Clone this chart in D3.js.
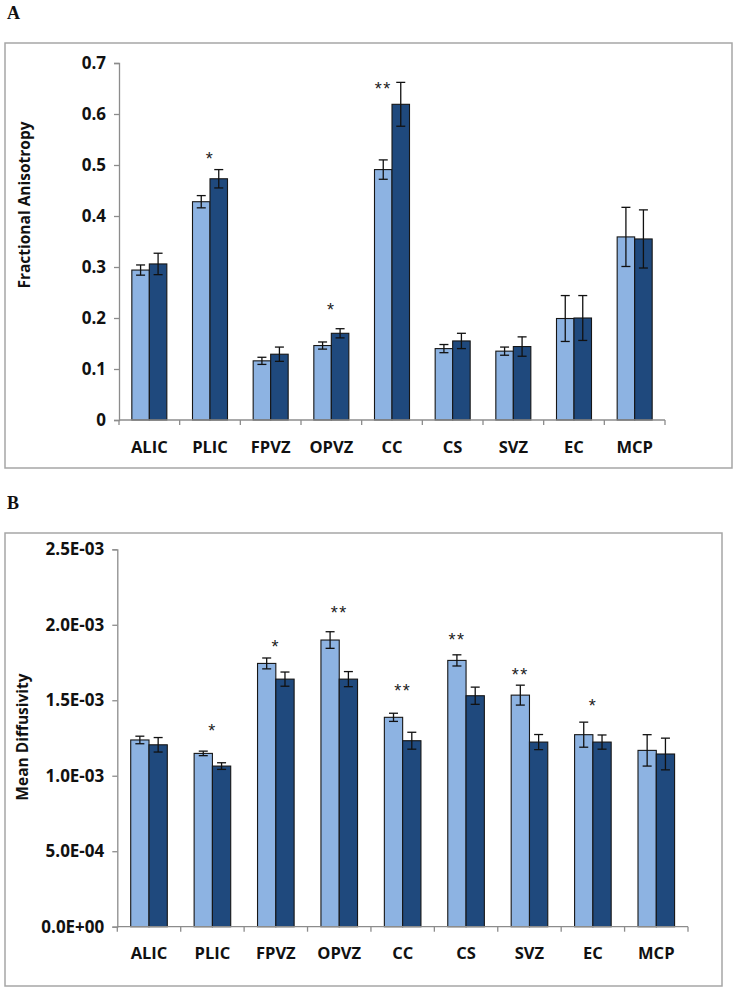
<!DOCTYPE html>
<html><head><meta charset="utf-8">
<script src="https://cdn.jsdelivr.net/npm/d3@7"></script>
<style>
html,body{margin:0;padding:0;background:#fff;}
svg{display:block;}
</style></head>
<body>
<svg id="chart" width="738" height="992"></svg>
<script>
// ---------- DATA ----------
const categories = ["ALIC","PLIC","FPVZ","OPVZ","CC","CS","SVZ","EC","MCP"];

// Panel A: Fractional Anisotropy
const faLight    = [0.294, 0.428, 0.116, 0.146, 0.491, 0.140, 0.135, 0.199, 0.359];
const faLightErr = [0.010, 0.012, 0.007, 0.007, 0.019, 0.008, 0.008, 0.045, 0.058];
const faDark     = [0.306, 0.473, 0.129, 0.170, 0.619, 0.155, 0.144, 0.200, 0.355];
const faDarkErr  = [0.021, 0.018, 0.014, 0.009, 0.043, 0.015, 0.019, 0.044, 0.057];
const faSig      = ["", "*", "", "*", "**", "", "", "", ""];
const faSigLevel = [null, 0.52, null, 0.2235, 0.657, null, null, null, null];
const faSigOver  = ["", "pair", "", "pair", "light", "", "", "", ""];
const faTicks      = [0, 0.1, 0.2, 0.3, 0.4, 0.5, 0.6, 0.7];
const faTickLabels = ["0", "0.1", "0.2", "0.3", "0.4", "0.5", "0.6", "0.7"];

// Panel B: Mean Diffusivity
const mdLight    = [1.237e-3, 1.148e-3, 1.744e-3, 1.899e-3, 1.387e-3, 1.764e-3, 1.534e-3, 1.272e-3, 1.168e-3];
const mdLightErr = [0.025e-3, 0.015e-3, 0.036e-3, 0.055e-3, 0.027e-3, 0.037e-3, 0.066e-3, 0.083e-3, 0.104e-3];
const mdDark     = [1.205e-3, 1.064e-3, 1.640e-3, 1.640e-3, 1.232e-3, 1.530e-3, 1.223e-3, 1.223e-3, 1.144e-3];
const mdDarkErr  = [0.048e-3, 0.022e-3, 0.047e-3, 0.050e-3, 0.056e-3, 0.057e-3, 0.050e-3, 0.047e-3, 0.105e-3];
const mdSig      = ["", "*", "*", "**", "**", "**", "**", "*", ""];
const mdSigLevel = [null, 1.320e-3, 1.881e-3, 2.104e-3, 1.586e-3, 1.927e-3, 1.692e-3, 1.488e-3, null];
const mdSigOver  = ["", "pair", "pair", "pair", "pair", "light", "light", "pair", ""];
const mdTicks      = [0, 5e-4, 1.0e-3, 1.5e-3, 2.0e-3, 2.5e-3];
const mdTickLabels = ["0.0E+00", "5.0E-04", "1.0E-03", "1.5E-03", "2.0E-03", "2.5E-03"];

// ---------- STYLE ----------
const LIGHT = "#8db3e2", DARK = "#1f497d";
const AXIS = "#8c8c8c", FRAME = "#a6a6a6";
const FONT = "'Open Sans', 'Liberation Sans', Arial, sans-serif";

const svg = d3.select("#chart");

function panel(cfg) {
  const g = svg.append("g");
  g.append("text").attr("x", cfg.letterX).attr("y", cfg.letterY)
    .attr("font-family", "'Liberation Serif','Times New Roman',serif")
    .attr("font-weight", "bold").attr("font-size", 18).attr("fill", "#111")
    .text(cfg.letter);
  g.append("rect").attr("x", cfg.frame[0]).attr("y", cfg.frame[1])
    .attr("width", cfg.frame[2] - cfg.frame[0]).attr("height", cfg.frame[3] - cfg.frame[1])
    .attr("fill", "none").attr("stroke", FRAME).attr("stroke-width", 1.5);

  const y = d3.scaleLinear().domain(cfg.domain).range([cfg.y0, cfg.y1]);
  const x0 = d3.scaleBand().domain(categories).range([cfg.xa, cfg.xb])
    .paddingInner(0.423).paddingOuter(0.2115);
  const x1 = d3.scaleBand().domain(["light", "dark"]).range([0, x0.bandwidth()]).padding(0);
  const step = x0.step();
  const bandStart = d => x0(d) - step * x0.paddingInner() / 2;

  const yAxis = d3.axisLeft(y).tickValues(cfg.ticks)
    .tickFormat((d, i) => cfg.tickLabels[i]).tickSize(5).tickPadding(8);
  const ya = g.append("g").attr("transform", `translate(${cfg.xa},0)`).call(yAxis);
  ya.select(".domain").attr("stroke", AXIS).attr("stroke-width", 1.3);
  ya.selectAll(".tick line").attr("stroke", AXIS).attr("stroke-width", 1.3);
  ya.selectAll(".tick text").attr("font-family", FONT).attr("font-weight", 700)
    .attr("font-size", 17).attr("fill", "#111");

  const series = [
    {key: "light", vals: cfg.light, errs: cfg.lightErr, color: LIGHT},
    {key: "dark",  vals: cfg.dark,  errs: cfg.darkErr,  color: DARK}
  ];
  series.forEach(s => {
    g.selectAll(null).data(categories).enter().append("rect")
      .attr("x", d => x0(d) + x1(s.key))
      .attr("y", (d, i) => y(s.vals[i]))
      .attr("width", x1.bandwidth())
      .attr("height", (d, i) => y(0) - y(s.vals[i]))
      .attr("fill", s.color).attr("stroke", "#161616").attr("stroke-width", 1.1);
  });
  series.forEach(s => {
    const eg = g.selectAll(null).data(categories).enter().append("g")
      .attr("transform", d => `translate(${x0(d) + x1(s.key) + x1.bandwidth() / 2},0)`);
    eg.append("line").attr("x1", 0).attr("x2", 0)
      .attr("y1", (d, i) => y(s.vals[i] + s.errs[i]))
      .attr("y2", (d, i) => y(s.vals[i] - s.errs[i]))
      .attr("stroke", "#111").attr("stroke-width", 1.3);
    [1, -1].forEach(sg => {
      eg.append("line").attr("x1", -4.5).attr("x2", 4.5)
        .attr("y1", (d, i) => y(s.vals[i] + sg * s.errs[i]))
        .attr("y2", (d, i) => y(s.vals[i] + sg * s.errs[i]))
        .attr("stroke", "#111").attr("stroke-width", 1.3);
    });
  });

  g.append("line").attr("x1", cfg.xa).attr("x2", cfg.xb)
    .attr("y1", y(0)).attr("y2", y(0)).attr("stroke", AXIS).attr("stroke-width", 1.3);
  const bounds = categories.map(bandStart).concat([cfg.xb]);
  g.selectAll(null).data(bounds).enter().append("line")
    .attr("x1", d => d).attr("x2", d => d)
    .attr("y1", y(0)).attr("y2", y(0) + 5)
    .attr("stroke", AXIS).attr("stroke-width", 1.3);
  g.selectAll(null).data(categories).enter().append("text")
    .attr("x", d => x0(d) + x0.bandwidth() / 2)
    .attr("y", y(0) + cfg.catDy)
    .attr("text-anchor", "middle")
    .attr("font-family", FONT).attr("font-weight", 700).attr("font-size", 16.5)
    .attr("fill", "#111").text(d => d);

  g.selectAll(null).data(categories.filter((d, i) => cfg.sig[i])).enter().append("text")
    .attr("x", d => {
      const i = categories.indexOf(d);
      return cfg.sigOver[i] === "light"
        ? x0(d) + x1("light") + x1.bandwidth() / 2
        : x0(d) + x0.bandwidth() / 2;
    })
    .attr("y", d => y(cfg.sigLevel[categories.indexOf(d)]) + 10)
    .attr("text-anchor", "middle")
    .attr("font-family", "'Liberation Sans', Arial, sans-serif").attr("font-size", 18)
    .attr("letter-spacing", 1.5)
    .attr("fill", "#222").text(d => cfg.sig[categories.indexOf(d)]);

  g.append("text")
    .attr("transform", `translate(${cfg.titleX},${cfg.titleY}) rotate(-90)`)
    .attr("text-anchor", "middle")
    .attr("font-family", FONT).attr("font-weight", 700).attr("font-size", 15.5)
    .attr("fill", "#111").text(cfg.title);
}

panel({
  letter: "A", letterX: 7, letterY: 19,
  frame: [5, 43, 732, 468],
  domain: [0, 0.7], y0: 420, y1: 63,
  xa: 119, xb: 665,
  ticks: faTicks, tickLabels: faTickLabels,
  light: faLight, lightErr: faLightErr, dark: faDark, darkErr: faDarkErr,
  sig: faSig, sigLevel: faSigLevel, sigOver: faSigOver,
  catDy: 33,
  title: "Fractional Anisotropy", titleX: 30, titleY: 205
});

panel({
  letter: "B", letterX: 7, letterY: 509,
  frame: [5, 533, 722, 986],
  domain: [0, 2.5e-3], y0: 926.7, y1: 549.3,
  xa: 117.3, xb: 688,
  ticks: mdTicks, tickLabels: mdTickLabels,
  light: mdLight, lightErr: mdLightErr, dark: mdDark, darkErr: mdDarkErr,
  sig: mdSig, sigLevel: mdSigLevel, sigOver: mdSigOver,
  catDy: 32,
  title: "Mean Diffusivity", titleX: 28, titleY: 737
});
</script>
</body></html>
